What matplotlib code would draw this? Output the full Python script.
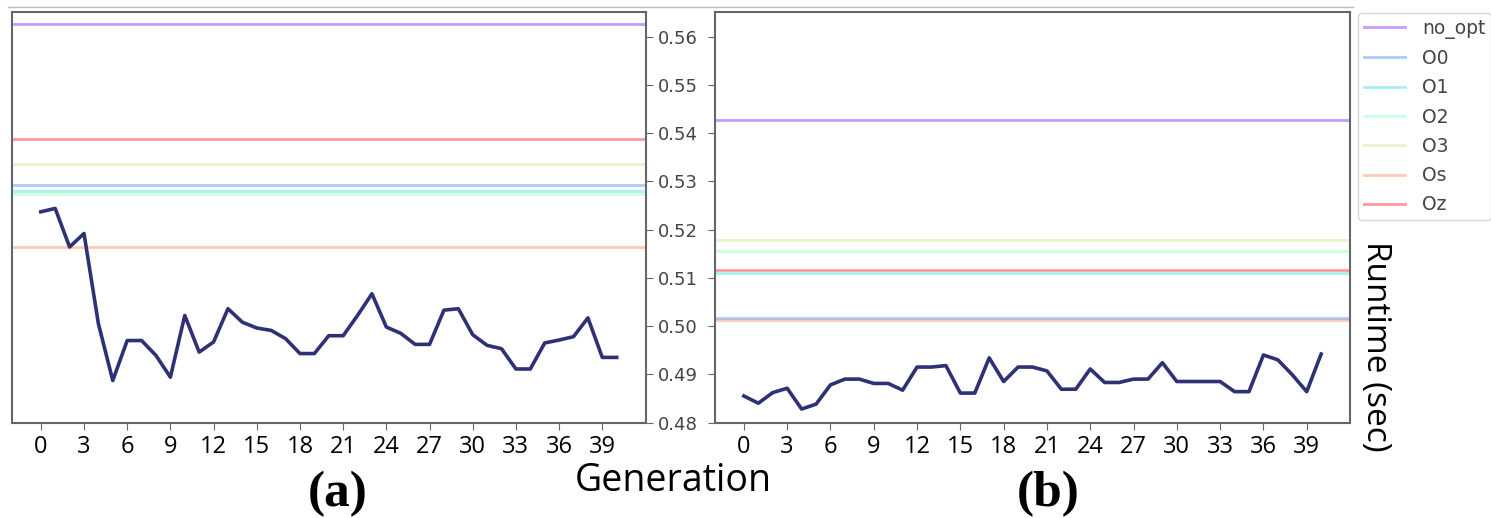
import numpy as np
import matplotlib
matplotlib.use("Agg")
import matplotlib.pyplot as plt
from matplotlib.lines import Line2D

# runtime of best individual per generation
gen = np.arange(41)
best_a = [0.5237, 0.5244, 0.5164, 0.5192, 0.5005, 0.4887, 0.4970, 0.4970, 0.4939, 0.4894,
          0.5022, 0.4946, 0.4967, 0.5036, 0.5008, 0.4996, 0.4991, 0.4974, 0.4943, 0.4943,
          0.4980, 0.4980, 0.5022, 0.5067, 0.4998, 0.4985, 0.4962, 0.4962, 0.5033, 0.5036,
          0.4982, 0.4960, 0.4953, 0.4911, 0.4911, 0.4965, 0.4971, 0.4978, 0.5017, 0.4935,
          0.4935]
best_b = [0.4855, 0.4840, 0.4862, 0.4871, 0.4828, 0.4838, 0.4878, 0.4890, 0.4890, 0.4881,
          0.4881, 0.4867, 0.4915, 0.4915, 0.4918, 0.4861, 0.4861, 0.4934, 0.4885, 0.4915,
          0.4915, 0.4907, 0.4869, 0.4869, 0.4911, 0.4883, 0.4883, 0.4890, 0.4890, 0.4924,
          0.4885, 0.4885, 0.4885, 0.4885, 0.4864, 0.4864, 0.4940, 0.4930, 0.4899, 0.4864,
          0.4942]

# compiler flag baselines
flags = ["no_opt", "O0", "O1", "O2", "O3", "Os", "Oz"]
base_a = [0.5627, 0.5293, 0.5281, 0.5273, 0.5336, 0.5164, 0.5387]
base_b = [0.5428, 0.5017, 0.5111, 0.5156, 0.5179, 0.5012, 0.5117]

colors = plt.cm.rainbow(np.linspace(0, 1, len(flags)))

fig = plt.figure(figsize=(14.91, 5.18), dpi=100)
ax1 = fig.add_axes([12/1491, 1-422.5/518, (645.5-12)/1491, (422.5-11.7)/518])
ax2 = fig.add_axes([715/1491, 1-422.5/518, (1350-715)/1491, (422.5-11.7)/518])

handles = []
for ax, base, best in [(ax1, base_a, best_a), (ax2, base_b, best_b)]:
    for f, v, c in zip(flags, base, colors):
        h = ax.axhline(v, color=c, alpha=0.4, lw=2.0, label=f)
        if ax is ax1:
            handles.append(h)
    ax.plot(gen, best, color="#2e3174", lw=2.6)
    ax.set_xlim(-2, 42)
    ax.set_ylim(0.48, 0.5652)
    ax.set_xticks(np.arange(0, 40, 3))
    for s in ax.spines.values():
        s.set_color("#666666")
        s.set_linewidth(1.5)
    ax.tick_params(axis="x", length=5, color="#666666", labelsize=17, pad=4)
    for t in ax.get_xticklabels():
        t.set_fontfamily("Open Sans")
    ax.set_yticks(np.arange(0.48, 0.565, 0.01))
    ax.tick_params(axis="y", length=5, color="#666666", labelsize=13, labelcolor="#444444")

ax1.yaxis.tick_right()
ax1.set_yticklabels(["%.2f" % v for v in np.arange(0.48, 0.565, 0.01)])
ax1.tick_params(axis="y", pad=4)
ax2.set_yticklabels([])

leg = fig.legend(handles=handles, labels=flags, loc="upper left",
                 bbox_to_anchor=(1358/1491, 1-13/518), borderaxespad=0,
                 fontsize=13.5, labelspacing=0.55, handlelength=2.2,
                 handletextpad=0.9, borderpad=0.3, frameon=True, fancybox=True)
leg.get_frame().set_edgecolor("#cccccc")
for t in leg.get_texts():
    t.set_color("#444444")
for l in leg.get_lines():
    l.set_alpha(0.4)

fig.text(673/1491, 1-481/518, "Generation", family="Open Sans", fontsize=27,
         ha="center", va="center")
fig.text(1376/1491, 1-346/518, "Runtime (sec)", family="Open Sans", fontsize=24,
         rotation=270, ha="center", va="center")
fig.text(338/1491, 1-494/518, "(a)", family="Liberation Serif", weight="bold",
         fontsize=37, ha="center", va="center")
fig.text(1048/1491, 1-494/518, "(b)", family="Liberation Serif", weight="bold",
         fontsize=37, ha="center", va="center")

fig.add_artist(Line2D([8/1491, 1353/1491], [1-7/518, 1-7/518], color="#bbbbbb", lw=1))

fig.savefig("out.png", dpi=100)
